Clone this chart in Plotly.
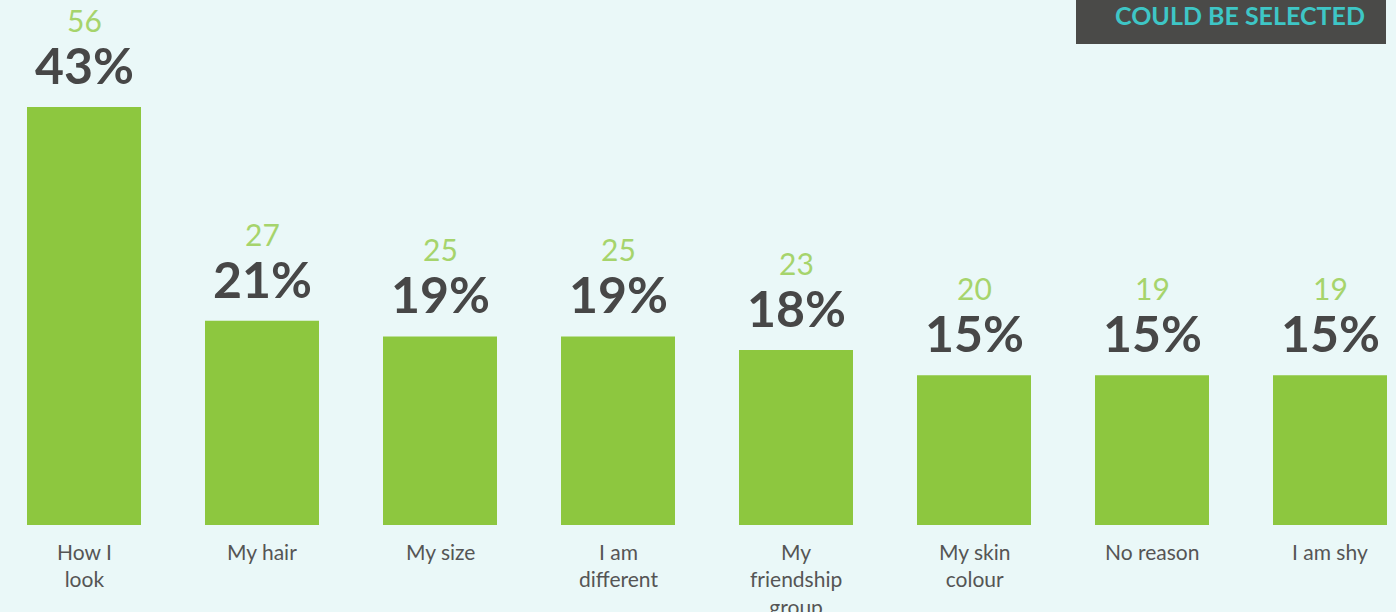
import plotly.graph_objects as go

categories = ["How I<br>look", "My hair", "My size", "I am<br>different",
              "My<br>friendship<br>group", "My skin<br>colour", "No reason", "I am shy"]
percent_values = [43, 21, 19.4, 19.4, 18, 15.4, 15.4, 15.4]
percent_labels = ["43%", "21%", "19%", "19%", "18%", "15%", "15%", "15%"]
counts = [56, 27, 25, 25, 23, 20, 19, 19]

BG = "#EAF8F8"
BAR = "#8DC73F"
DARK = "#474747"
LIGHT_GREEN = "#A6D46C"
TEAL = "#3EC6C6"
BOX = "#4A4A48"
FONT = "Lato"

x = list(range(len(categories)))

fig = go.Figure()
fig.add_trace(go.Bar(x=x, y=percent_values, marker=dict(color=BAR, line=dict(width=0)),
                     width=114 / 178, hoverinfo="skip"))

W, H = 1396, 612
plot_h = 525
step = 178
first = 84

ann = []
for i, (v, pl, c) in enumerate(zip(percent_values, percent_labels, counts)):
    label = (f"<span style='font-size:30px;color:{LIGHT_GREEN}'>{c}</span><br>"
             f"<span style='font-size:50px;color:{DARK}'><b>{pl}</b></span>")
    ann.append(dict(x=i, y=v, xref="x", yref="y", text=label, showarrow=False,
                    yanchor="bottom", yshift=10,
                    font=dict(family=FONT, size=40, color=DARK)))
    ann.append(dict(x=i, y=0, xref="x", yref="paper", text=categories[i], showarrow=False,
                    yanchor="top", yshift=-12, align="center",
                    font=dict(family=FONT, size=21, color="#555555")))

ann.append(dict(x=1239.5 / W, y=1 - 15 / plot_h, xref="paper", yref="paper",
                text="COULD BE SELECTED", showarrow=False, yanchor="middle", xanchor="center",
                font=dict(family=FONT, size=25, color=TEAL, weight="bold")))

fig.update_layout(
    width=W, height=H,
    margin=dict(l=0, r=0, t=0, b=H - plot_h, pad=0),
    paper_bgcolor=BG, plot_bgcolor=BG,
    showlegend=False,
    xaxis=dict(range=[-first / step, (W - first) / step], showticklabels=False,
               showgrid=False, zeroline=False, showline=False, fixedrange=True),
    yaxis=dict(range=[0, 54], showticklabels=False, showgrid=False, zeroline=False,
               showline=False, fixedrange=True),
    annotations=ann,
    shapes=[dict(type="rect", xref="paper", yref="paper",
                 x0=1076 / W, x1=1386 / W, y0=1 - 44 / plot_h, y1=1.1,
                 fillcolor=BOX, line=dict(width=0), layer="below")],
)

fig.write_html("out.html", config={"displayModeBar": False},
               post_script="document.body.style.margin='0';document.body.style.overflow='hidden';"
                           "document.body.style.background='" + BG + "';")
